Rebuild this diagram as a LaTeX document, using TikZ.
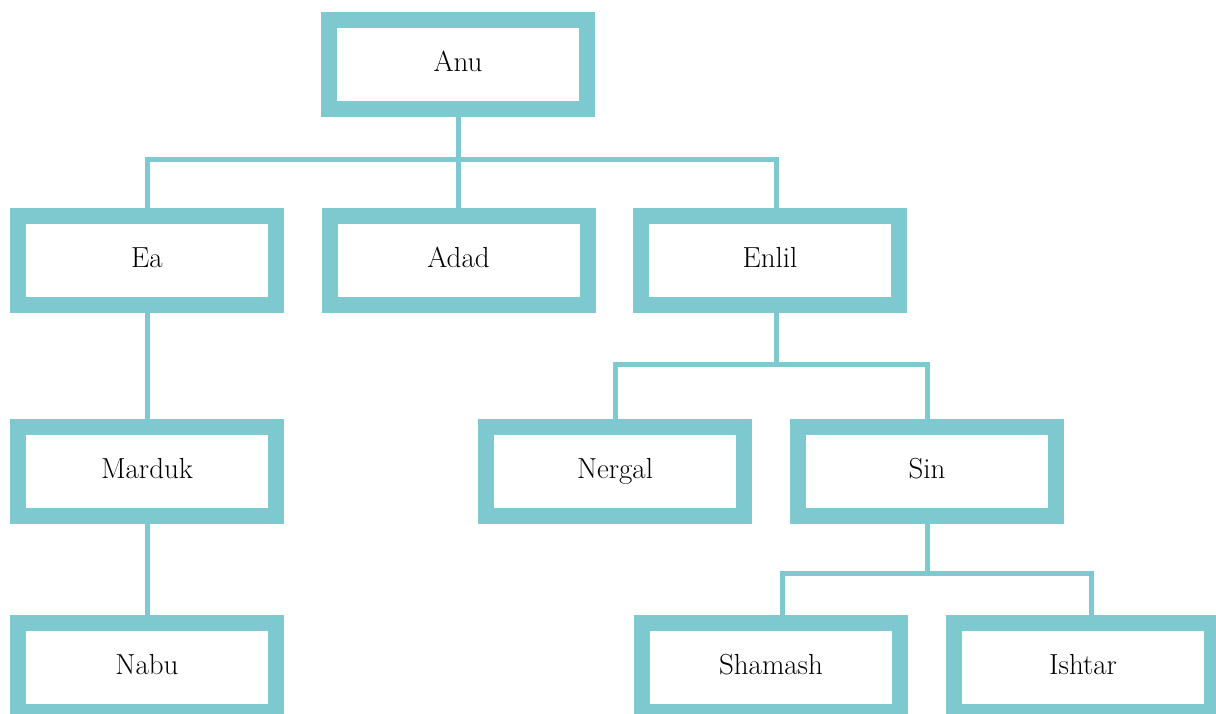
\documentclass[tikz,border=0pt]{standalone}
\usepackage{fontspec}
\definecolor{teal}{RGB}{126,200,208}
\tikzset{
  godbox/.style={draw=teal, line width=16pt, fill=white, minimum width=258pt, minimum height=89pt,
    inner sep=0pt, font=\fontsize{29}{33}\selectfont, text height=19pt, text depth=5pt, text=black},
  conn/.style={draw=teal, line width=5pt, line cap=butt, line join=miter}
}
\begin{document}
\begin{tikzpicture}[x=1pt, y=-1pt]
\useasboundingbox (0,0) rectangle (1216,713);
% nodes
\node[godbox] (anu)     at (458,64)    {Anu};
\node[godbox] (ea)      at (147,260)   {Ea};
\node[godbox] (adad)    at (458.5,260) {Adad};
\node[godbox] (enlil)   at (770,260)   {Enlil};
\node[godbox] (marduk)  at (147,471)   {Marduk};
\node[godbox] (nergal)  at (615,471)   {Nergal};
\node[godbox] (sin)     at (927,471)   {Sin};
\node[godbox] (nabu)    at (147,667.3) {Nabu};
\node[godbox] (shamash) at (771,667.3) {Shamash};
\node[godbox] (ishtar)  at (1083,667.3) {Ishtar};
% bus coordinates
\coordinate (busA) at (0,159);
\coordinate (busE) at (0,364);
\coordinate (busS) at (0,573.7);
% connectors
\draw[conn] (anu.south) -- (anu.south |- busA);
\draw[conn] (ea.north) |- ([xshift=6.7pt]enlil.north |- busA) -- ([xshift=6.7pt]enlil.north);
\draw[conn] (adad.north) -- (adad.north |- busA);
\draw[conn] (ea.south) -- (marduk.north);
\draw[conn] (marduk.south) -- (nabu.north);
\draw[conn] ([xshift=6.7pt]enlil.south) -- ([xshift=6.7pt]enlil.south |- busE);
\draw[conn] ([xshift=0.7pt]nergal.north) |- ([xshift=0.3pt]sin.north |- busE) -- ([xshift=0.3pt]sin.north);
\draw[conn] ([xshift=0.3pt]sin.south) -- ([xshift=0.3pt]sin.south |- busS);
\draw[conn] ([xshift=11.3pt]shamash.north) |- ([xshift=8.7pt]ishtar.north |- busS) -- ([xshift=8.7pt]ishtar.north);
\end{tikzpicture}
\end{document}
